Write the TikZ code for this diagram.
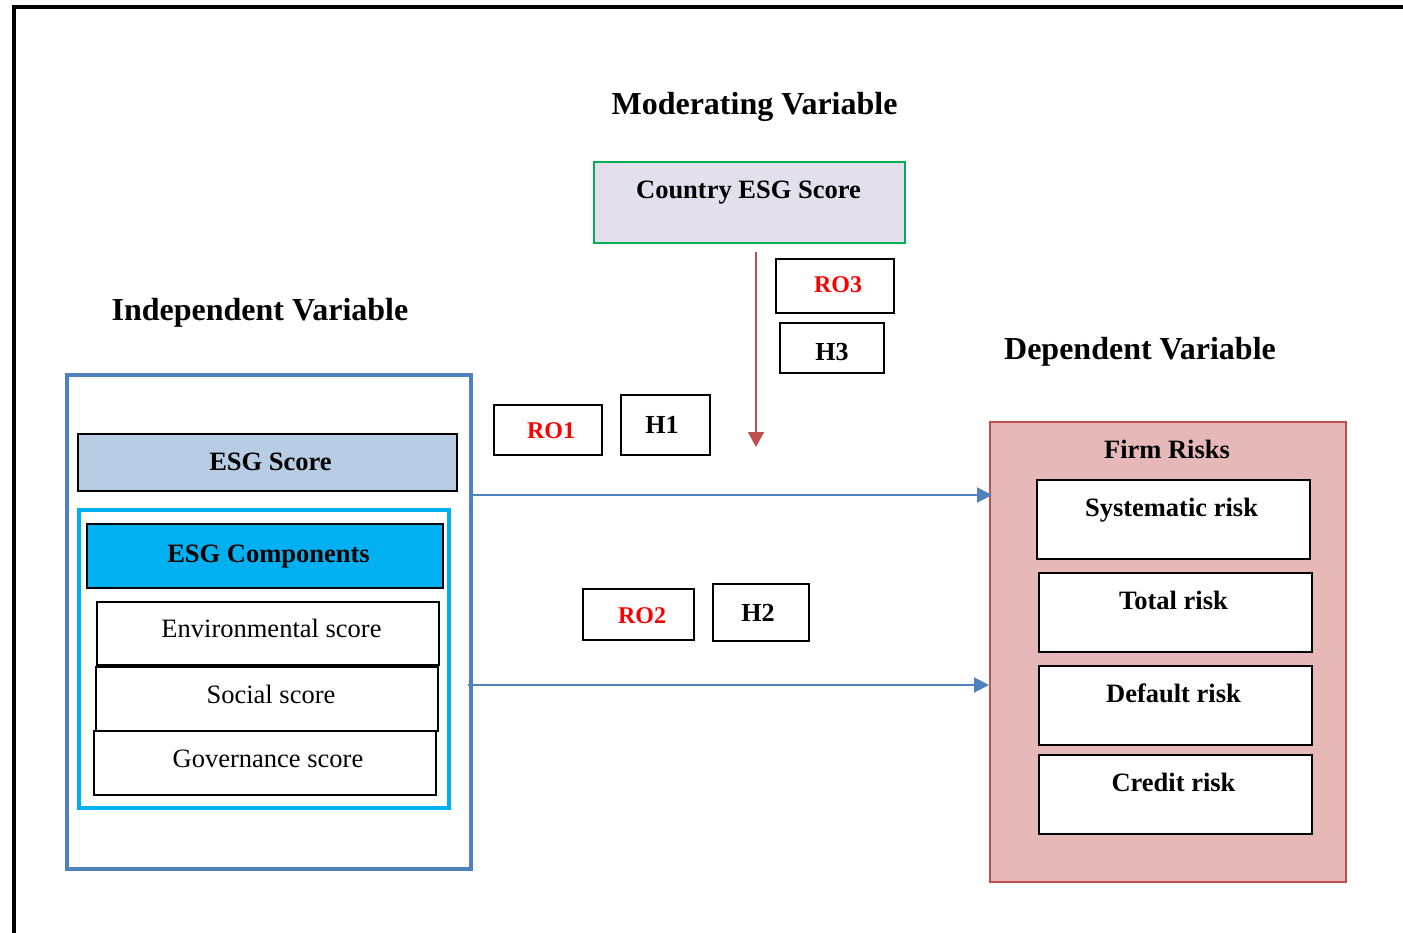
\documentclass[tikz,border=0pt]{standalone}
\usepackage{fontspec}
\setmainfont{Liberation Serif}
\usetikzlibrary{arrows.meta}

\definecolor{frameblue}{HTML}{4F81BD}
\definecolor{cyanblue}{HTML}{00B0F0}
\definecolor{lavender}{HTML}{E4DFEC}
\definecolor{modgreen}{HTML}{00B050}
\definecolor{riskpink}{HTML}{E6B9B8}
\definecolor{riskred}{HTML}{C0504D}
\definecolor{scoreblue}{HTML}{B8CCE4}
\definecolor{labelred}{HTML}{FF0000}

\tikzset{
  box/.style={draw=black, line width=2pt, fill=white, inner sep=0pt, rectangle},
  heading/.style={font=\fontsize{32}{36}\selectfont\bfseries, inner sep=0pt, anchor=base},
  bodybold/.style={font=\fontsize{26.5}{30}\selectfont\bfseries, inner sep=0pt, anchor=base},
  bodyplain/.style={font=\fontsize{26.5}{30}\selectfont, inner sep=0pt, anchor=base},
  tagtext/.style={font=\fontsize{24}{28}\selectfont\bfseries, inner sep=0pt, anchor=base},
  hyptext/.style={font=\fontsize{26}{30}\selectfont\bfseries, inner sep=0pt, anchor=base},
  effect/.style={draw=frameblue, line width=2pt, -{Triangle[length=15pt,width=15pt]}},
  moderation/.style={draw=riskred, line width=1.6pt, -{Triangle[length=15pt,width=16pt]}}
}

\begin{document}
\begin{tikzpicture}[x=1pt,y=-1pt]
\useasboundingbox (0,0) rectangle (1403,932);
\fill[white] (0,0) rectangle (1403,932);

% outer page frame (top and left edges)
\draw[line width=4pt] (14,940) -- (14,7) -- (1410,7);

% headings
\node[heading] (modhead) at (754.5,114) {Moderating Variable};
\node[heading] (indhead) at (260,320) {Independent Variable};
\node[heading] (dephead) at (1140,359) {Dependent Variable};

% moderating variable
\node[box, draw=modgreen, line width=2.5pt, fill=lavender, minimum width=311pt, minimum height=81pt] (country) at (749.5,202.5) {};
\node[bodybold] (countrytxt) at (748.5,198) {Country ESG Score};

\node[box, minimum width=118pt, minimum height=54pt] (ro3) at (835,286) {};
\node[tagtext, text=labelred] (ro3txt) at (838,292) {RO3};
\node[box, minimum width=104pt, minimum height=50pt] (h3) at (832,348) {};
\node[hyptext] (h3txt) at (832,360) {H3};

% independent variable block
\node[box, draw=frameblue, line width=4pt, fill=white, minimum width=404pt, minimum height=494pt] (indep) at (269,622) {};
\node[box, fill=scoreblue, minimum width=379pt, minimum height=57pt] (esgscore) at (267.5,462.5) {};
\node[bodybold] (esgscoretxt) at (270.5,470) {ESG Score};

\node[box, draw=cyanblue, line width=4pt, minimum width=370pt, minimum height=298pt] (comp) at (264,659) {};
\node[box, fill=cyanblue, minimum width=356pt, minimum height=64pt] (comphead) at (265,556) {};
\node[bodybold] (comptxt) at (268.5,562) {ESG Components};

\node[box, minimum width=342pt, minimum height=63pt] (env) at (268,633.5) {};
\node[bodyplain] (envtxt) at (271.5,637) {Environmental score};
\node[box, minimum width=342pt, minimum height=64pt] (soc) at (267,699) {};
\node[bodyplain] (soctxt) at (271,703) {Social score};
\node[box, minimum width=342pt, minimum height=64pt] (gov) at (265,763) {};
\node[bodyplain] (govtxt) at (268,767) {Governance score};

% hypothesis tags on the direct paths
\node[box, minimum width=108pt, minimum height=50pt] (ro1) at (548,430) {};
\node[tagtext, text=labelred] (ro1txt) at (551,438) {RO1};
\node[box, minimum width=89pt, minimum height=60pt] (h1) at (665.5,425) {};
\node[hyptext] (h1txt) at (662,433) {H1};

\node[box, minimum width=111pt, minimum height=51pt] (ro2) at (638.5,614.5) {};
\node[tagtext, text=labelred] (ro2txt) at (642,623) {RO2};
\node[box, minimum width=96pt, minimum height=57pt] (h2) at (761,612.5) {};
\node[hyptext] (h2txt) at (758,621) {H2};

% dependent variable block
\node[box, draw=riskred, line width=2pt, fill=riskpink, minimum width=356pt, minimum height=460pt] (firm) at (1168,652) {};
\node[bodybold] (firmtxt) at (1167,458) {Firm Risks};

\node[box, minimum width=273pt, minimum height=79pt] (sys) at (1173.5,519.5) {};
\node[bodybold] (systxt) at (1171.5,516) {Systematic risk};
\node[box, minimum width=273pt, minimum height=79pt] (tot) at (1175.5,612.5) {};
\node[bodybold] (tottxt) at (1173.5,609) {Total risk};
\node[box, minimum width=273pt, minimum height=79pt] (dflt) at (1175.5,705.5) {};
\node[bodybold] (dflttxt) at (1173.5,702) {Default risk};
\node[box, minimum width=273pt, minimum height=79pt] (cred) at (1175.5,794.5) {};
\node[bodybold] (credtxt) at (1173.5,791) {Credit risk};

% connectors
\coordinate (modstart) at (756,252);
\coordinate (modtip) at (756,447);
\draw[moderation] (modstart) -- (modtip);

\coordinate (h1row) at (0,495);
\coordinate (h2row) at (0,685);
\draw[effect] (indep.east |- h1row) -- ([xshift=3pt]firm.west |- h1row);
\draw[effect] ([xshift=-5pt]indep.east |- h2row) -- (firm.west |- h2row);
\end{tikzpicture}
\end{document}
